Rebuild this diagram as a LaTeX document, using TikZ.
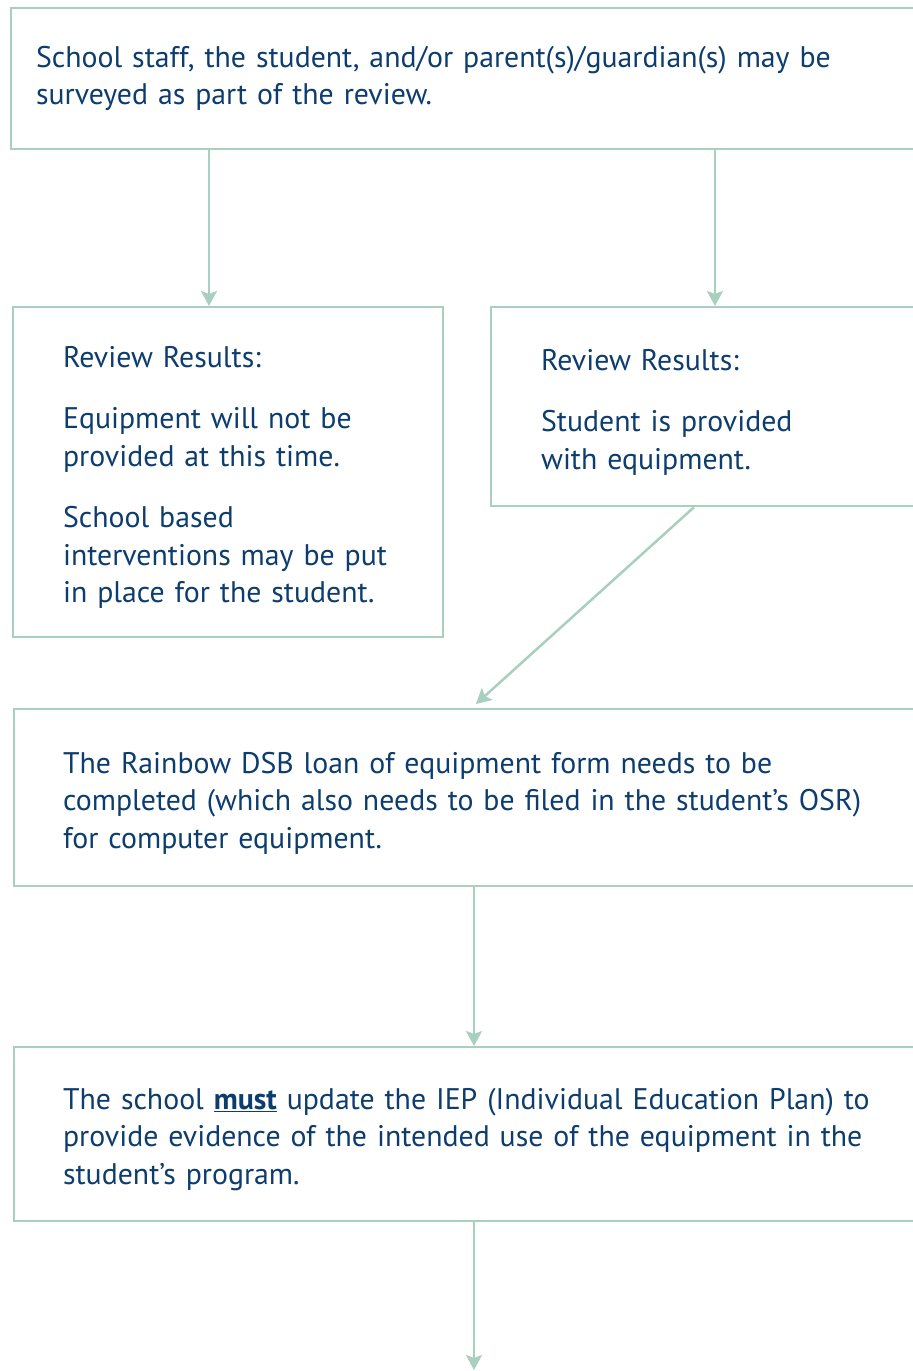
\documentclass[tikz,border=0pt]{standalone}
\usepackage{fontspec}
\setmainfont{PT Sans}
\usepackage{tikz}
\usetikzlibrary{positioning,arrows.meta}
\definecolor{flowGreen}{HTML}{A9CFBF}
\definecolor{flowNavy}{HTML}{0D3D6E}

\tikzset{
  flowbox/.style={draw=flowGreen, line width=2.2pt, anchor=north west, align=left,
    text=flowNavy, font=\fontsize{29.8}{37.5}\selectfont, inner ysep=0pt},
  lowered/.style={execute at begin node={\rule{0pt}{32pt}}},
  flowarr/.style={draw=flowGreen, line width=2.5pt,
    -{Stealth[length=15pt,width=16pt,inset=3pt]}}
}

\begin{document}
\begin{tikzpicture}[x=1pt,y=1pt]
    \clip (0,0) rectangle (913,-1371);
    \fill[white] (0,0) rectangle (913,-1371);

    \node[flowbox, minimum width=940pt, minimum height=141pt, inner xsep=25pt,
          text width=890pt] (survey) at (10,-7)
      {School staff, the student, and/or parent(s)/guardian(s) may be\\
       surveyed as part of the review.};
    \node[flowbox, lowered, minimum width=430pt, minimum height=330pt, inner xsep=50pt,
          text width=330pt] (notprov) at (12,-306)
      {Review Results:\\[24pt]
       Equipment will not be\\ provided at this time.\\[24pt]
       School based\\ interventions may be put\\ in place for the student.};
    \node[flowbox, lowered, minimum width=450pt, minimum height=199pt, inner xsep=50pt,
          text width=350pt] (provided) at (490,-306)
      {Review Results:\\[24pt]
       Student is provided\\ with equipment.};
    \node[flowbox, lowered, minimum width=930pt, minimum height=177pt, inner xsep=49pt,
          text width=832pt] (loan) at (13,-708)
      {The Rainbow DSB loan of equipment form needs to be\\
       completed (which also needs to be filed in the student's OSR)\\
       for computer equipment.};
    \node[flowbox, lowered, minimum width=930pt, minimum height=174pt, inner xsep=49pt,
          text width=832pt] (iep) at (13,-1046)
      {The school \underline{\textbf{must}} update the IEP (Individual Education Plan) to\\
       provide evidence of the intended use of the equipment in the\\
       student's program.};
    \coordinate (bottom) at (474,-1370);

    \draw[flowarr] ([xshift=197pt]notprov.north west |- survey.south)
      -- ([xshift=197pt]notprov.north west);
    \draw[flowarr] ([xshift=225pt]provided.north west |- survey.south)
      -- ([xshift=225pt]provided.north west);
    \draw[flowarr] ([xshift=204pt]provided.south west)
      -- ([xshift=463pt,yshift=4pt]loan.north west);
    \draw[flowarr] ([xshift=461pt]loan.south west)
      -- ([xshift=461pt]iep.north west);
    \draw[flowarr] ([xshift=461pt]iep.south west) -- (bottom);
  \end{tikzpicture}
\end{document}
